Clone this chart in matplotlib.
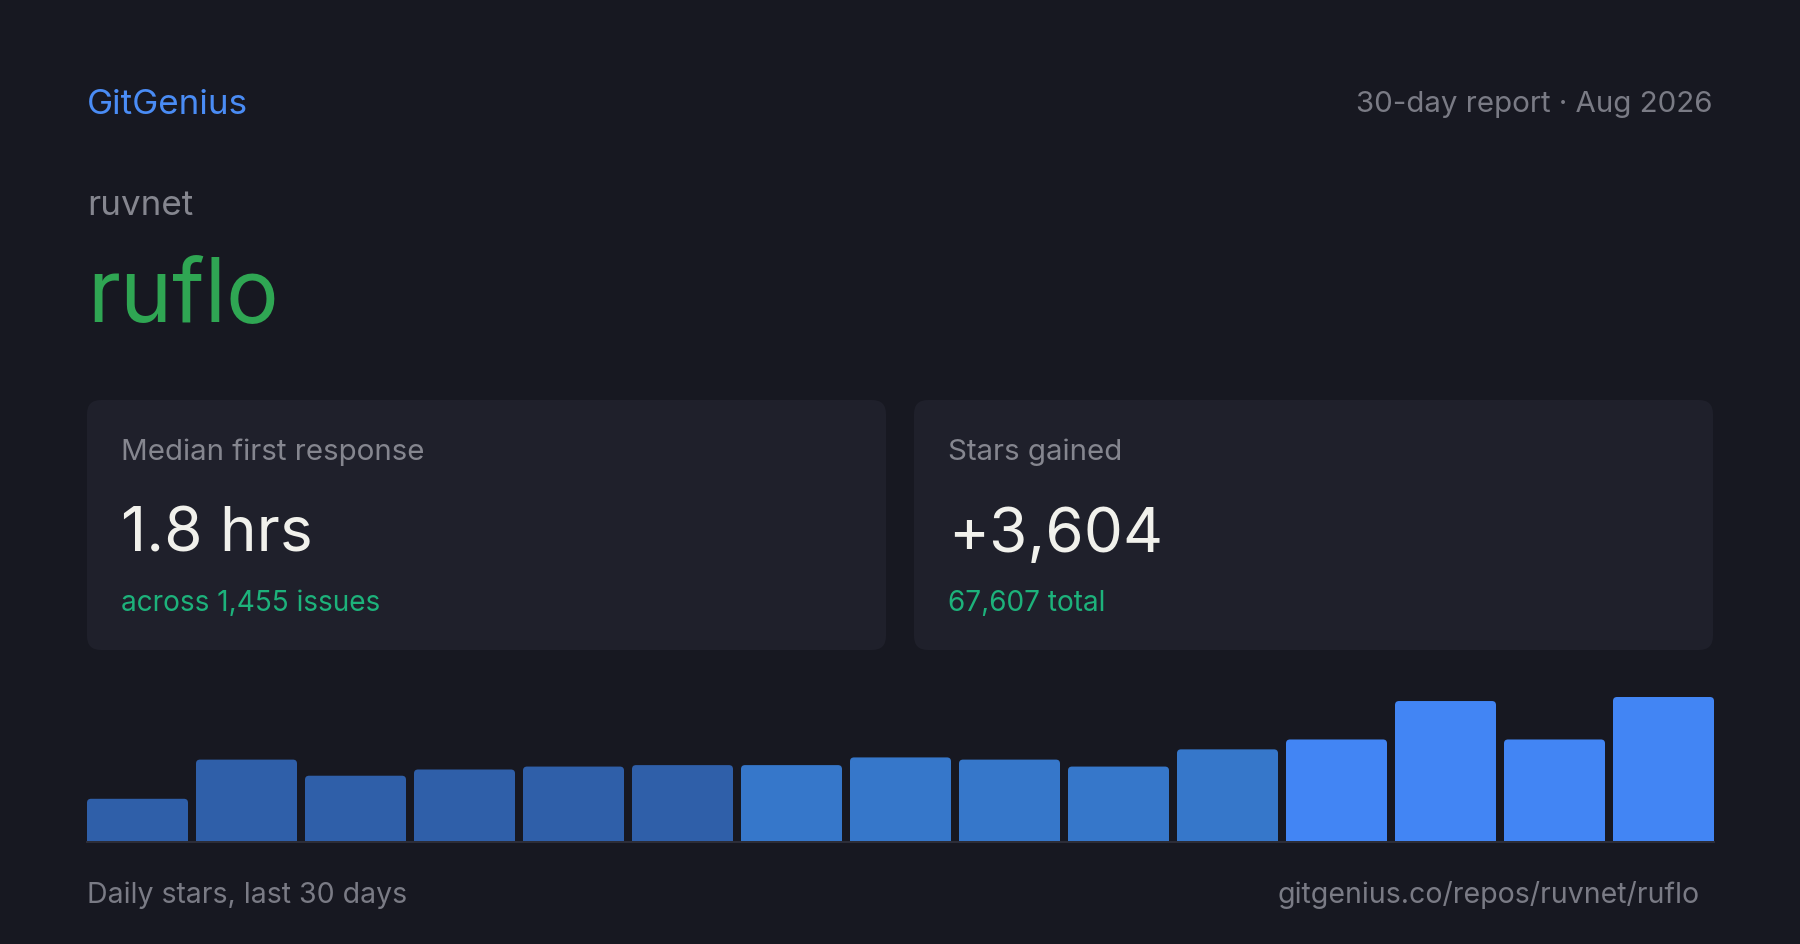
import numpy as np
import matplotlib
matplotlib.use("Agg")
import matplotlib.pyplot as plt
from matplotlib.patches import FancyBboxPatch

# ---------------- data ----------------
brand = "GitGenius"
report_label = "30-day report \u00b7 Aug 2026"
owner = "ruvnet"
repo = "ruflo"
card_titles = ["Median first response", "Stars gained"]
card_values = ["1.8 hrs", "+3,604"]
card_subs = ["across 1,455 issues", "67,607 total"]
footer_left = "Daily stars, last 30 days"
footer_right = "gitgenius.co/repos/ruvnet/ruflo"

bar_days = list(range(15))
bar_values = [118, 225, 181, 198, 206, 210, 210, 231, 225, 206, 253, 280, 385, 280, 396]
bar_tiers = [0, 0, 0, 0, 0, 0, 1, 1, 1, 1, 1, 2, 2, 2, 2]

# ---------------- style ----------------
W, H = 1800, 945
BG = "#171821"
CARD = "#1f202b"
BLUE = "#4a8cf5"
GREEN = "#2fa653"
SUBGREEN = "#1db27b"
GRAY = "#85868f"
GRAY2 = "#7a7b85"
WHITE = "#f1f1ec"
TIER_COLORS = ["#2f5fa9", "#3677ca", "#4285f4"]
FONT = ["Inter", "DejaVu Sans"]

plt.rcParams["font.family"] = FONT

def pt(px):
    return px * 72.0 / 100.0

fig = plt.figure(figsize=(W / 100, H / 100), dpi=100, facecolor=BG)
bg = fig.add_axes([0, 0, 1, 1])
bg.set_xlim(0, W)
bg.set_ylim(H, 0)
bg.axis("off")
bg.set_facecolor(BG)

# header
bg.text(87, 114, brand, color=BLUE, fontsize=pt(35), va="baseline", ha="left")
bg.text(1713, 112, report_label, color=GRAY2, fontsize=pt(29.5), va="baseline", ha="right")
bg.text(87, 215, owner, color=GRAY, fontsize=pt(35), va="baseline", ha="left")
bg.text(87, 322, repo, color=GREEN, fontsize=pt(88), va="baseline", ha="left")

# cards
card_x = [87, 914]
card_w = 799
card_top, card_bot = 401, 651
for i in range(2):
    x0 = card_x[i]
    p = FancyBboxPatch((x0, card_top), card_w, card_bot - card_top,
                       boxstyle="round,pad=0,rounding_size=14",
                       facecolor=CARD, edgecolor="none")
    bg.add_patch(p)
    bg.text(x0 + 34, 460, card_titles[i], color=GRAY, fontsize=pt(29.5), va="baseline")
    bg.text(x0 + 34, 552, card_values[i], color=WHITE, fontsize=pt(62), va="baseline")
    bg.text(x0 + 34, 611, card_subs[i], color=SUBGREEN, fontsize=pt(28), va="baseline")

# footer
bg.text(87, 903, footer_left, color=GRAY2, fontsize=pt(28.5), va="baseline", ha="left")
bg.text(1700, 903, footer_right, color=GRAY2, fontsize=pt(28.5), va="baseline", ha="right")

# ---------------- bar chart ----------------
x_left, x_right = 87, 1714
base_y = 843
pitch_px = 109.0
bw = 101.0 / pitch_px
ax_h_px = 160.0
max_px = 145.0
ymax = max(bar_values) * ax_h_px / max_px

ax = fig.add_axes([x_left / W, (H - base_y) / H, (x_right - x_left) / W, ax_h_px / H])
ax.set_facecolor("none")
ax.axis("off")
ax.set_xlim(-bw / 2, bar_days[-1] + bw / 2)
ax.set_ylim(0, ymax)

colors = [TIER_COLORS[t] for t in bar_tiers]
bars = ax.bar(bar_days, bar_values, width=bw, color=colors, linewidth=0)

# round the top corners of each bar
px_per_x = (x_right - x_left) / (bar_days[-1] + bw)
px_per_y = ax_h_px / ymax
r = 4.0 / px_per_x
aspect = px_per_x / px_per_y
for b in bars:
    bx, by = b.get_x(), b.get_y()
    bwid, bh = b.get_width(), b.get_height()
    b.set_visible(False)
    pad_y = 10.0 / px_per_y
    rp = FancyBboxPatch((bx, by - pad_y), bwid, bh + pad_y,
                        boxstyle=f"round,pad=0,rounding_size={r}",
                        mutation_aspect=aspect,
                        facecolor=b.get_facecolor(), edgecolor="none", clip_on=True)
    ax.add_patch(rp)

ax.axhline(0, color="#2c2d38", linewidth=pt(2.0), zorder=5, clip_on=False)

fig.savefig("out.png", dpi=100, facecolor=BG)
